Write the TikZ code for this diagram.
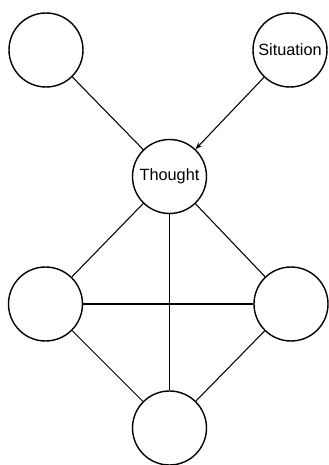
\documentclass[tikz,border=0pt]{standalone}
\usepackage{fontspec}
\setmainfont{Liberation Sans}
\usetikzlibrary{arrows.meta}

\tikzset{
  state/.style={circle, draw, line width=1.2pt, minimum size=2.22cm, inner sep=0pt, font=\fontsize{13.9}{16}\selectfont},
  link/.style={line width=0.9pt}
}

\begin{document}
\begin{tikzpicture}[x=0.03cm, y=0.03cm]

    % Page size
    \useasboundingbox (0,0) rectangle (328,465);

    % Top row
    \node[state] (A) at (46, 415) {};
    \node[state] (S) at (290, 415) {Situation};

    % Centre
    \node[state] (T) at (169.5, 288.5) {Thought};

    % Lower diamond
    \node[state] (L) at (45.5, 161) {};
    \node[state] (R) at (291, 161) {};
    \node[state] (B) at (169.5, 37) {};

    % Connectors
    \draw[link] (A) -- (T);
    \draw[link, -{Stealth[length=6pt, width=4.5pt]}] (S) -- (T);
    \draw[link] (T) -- (L);
    \draw[link] (T) -- (R);
    \draw[link] (T) -- (B);
    \draw[link] (L) -- (R);
    \draw[link] (L) -- (B);
    \draw[link] (R) -- (B);

  \end{tikzpicture}
\end{document}
